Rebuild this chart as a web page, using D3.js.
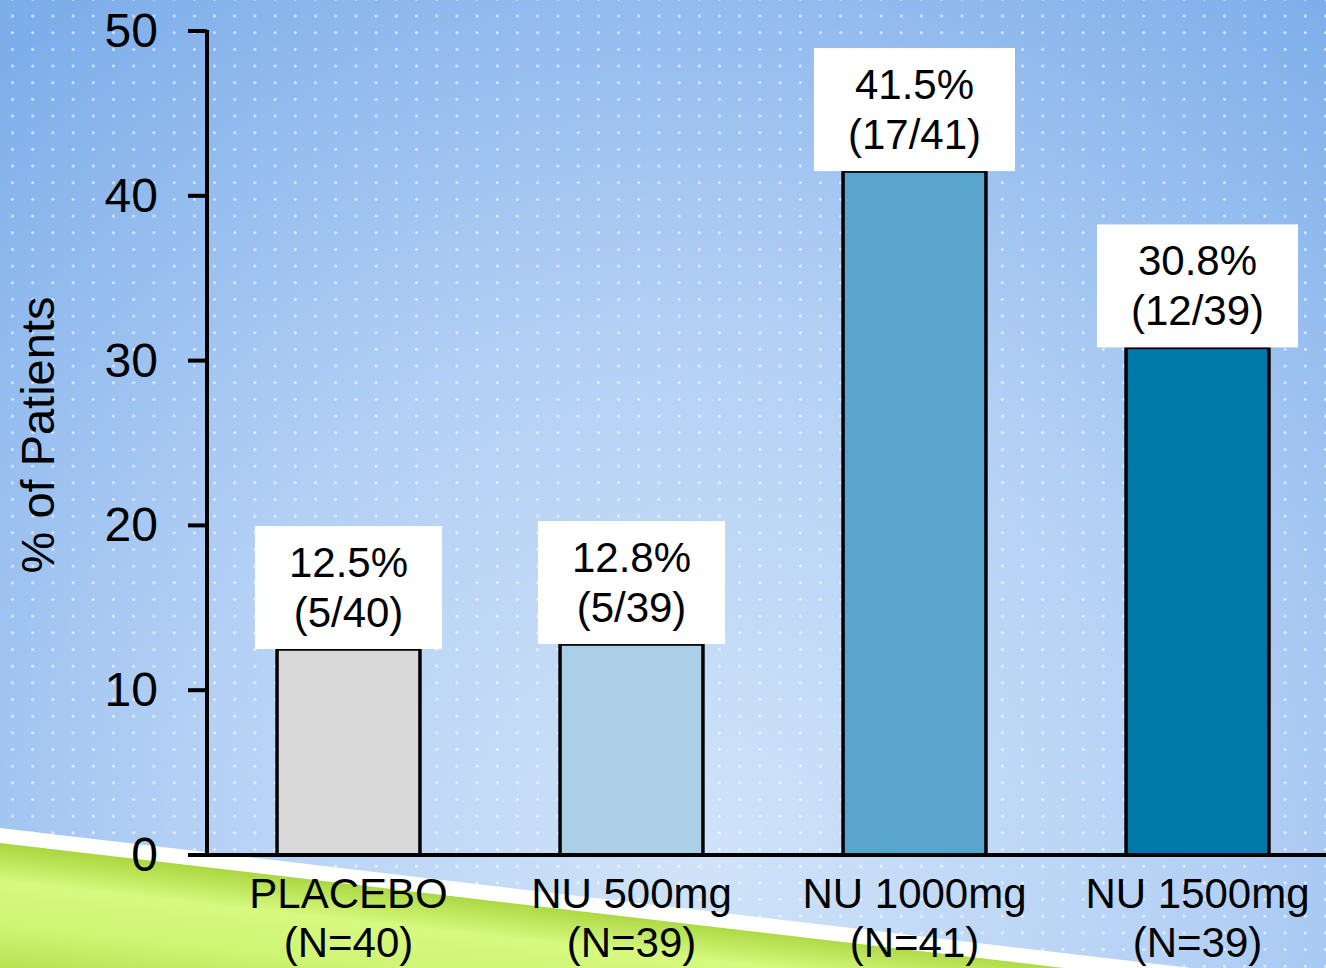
<!DOCTYPE html>
<html>
<head>
<meta charset="utf-8">
<script src="https://cdn.jsdelivr.net/npm/d3@7"></script>
<style>
  html, body { margin: 0; padding: 0; background: #fff; }
  svg { display: block; font-family: "Liberation Sans", Arial, sans-serif; }
</style>
</head>
<body>
<svg id="chart" width="1326" height="968"></svg>
<script>
// Responder rate by treatment arm
const groups = ["PLACEBO", "NU 500mg", "NU 1000mg", "NU 1500mg"];
const groupSizes = ["(N=40)", "(N=39)", "(N=41)", "(N=39)"];
const percentages = [12.5, 12.8, 41.5, 30.8];
const counts = ["(5/40)", "(5/39)", "(17/41)", "(12/39)"];
const barColors = ["#d9d9d9", "#aacfe6", "#5aa5cd", "#0079a8"];
const yTicks = [0, 10, 20, 30, 40, 50];
const yTitle = "% of Patients";

const W = 1326, H = 968;
const svg = d3.select("#chart");
const defs = svg.append("defs");

// Slide backdrop: soft blue glow with a white dot grid
const bg = defs.append("radialGradient").attr("id", "bgGrad")
  .attr("gradientUnits", "userSpaceOnUse")
  .attr("cx", 700).attr("cy", 850).attr("r", 1050);
bg.append("stop").attr("offset", 0).attr("stop-color", "#d0e3f9");
bg.append("stop").attr("offset", 0.5).attr("stop-color", "#b3d0f5");
bg.append("stop").attr("offset", 1).attr("stop-color", "#7eaeea");

const dots = defs.append("pattern").attr("id", "dots")
  .attr("patternUnits", "userSpaceOnUse")
  .attr("x", 2.5).attr("y", 7.7)
  .attr("width", 20.2).attr("height", 16.67);
dots.append("circle").attr("cx", 10).attr("cy", 8.3).attr("r", 1.3)
  .attr("fill", "#ffffff").attr("fill-opacity", 0.85);

const green = defs.append("linearGradient").attr("id", "greenGrad")
  .attr("gradientUnits", "userSpaceOnUse")
  .attr("x1", 0).attr("y1", 843).attr("x2", -14).attr("y2", 968);
green.append("stop").attr("offset", 0).attr("stop-color", "#a9d63f");
green.append("stop").attr("offset", 0.3).attr("stop-color", "#d6f97f");
green.append("stop").attr("offset", 0.65).attr("stop-color", "#d0f474");
green.append("stop").attr("offset", 1).attr("stop-color", "#b9e152");

svg.append("rect").attr("width", W).attr("height", H).attr("fill", "url(#bgGrad)");
svg.append("rect").attr("width", W).attr("height", H).attr("fill", "url(#dots)");

// Diagonal ribbon at the lower left
svg.append("polygon").attr("points", "0,828 1191,968 0,968").attr("fill", "#ffffff");
svg.append("polygon").attr("points", "0,843 1064,968 0,968").attr("fill", "url(#greenGrad)");

// Scales
const x = d3.scaleBand().domain(groups).range([207, 1339]).paddingInner(0.495).paddingOuter(0.2475);
const y = d3.scaleLinear().domain([0, 50]).range([855, 31]);

const g = svg.append("g");

// Bars
g.selectAll("rect.bar").data(groups).join("rect")
  .attr("class", "bar")
  .attr("x", d => x(d))
  .attr("width", x.bandwidth())
  .attr("y", (d, i) => y(percentages[i]))
  .attr("height", (d, i) => y(0) - y(percentages[i]))
  .attr("fill", (d, i) => barColors[i])
  .attr("stroke", "#000").attr("stroke-width", 3.5);

// Value labels in white boxes sitting on the bars
const lbl = g.selectAll("g.lbl").data(groups).join("g")
  .attr("class", "lbl")
  .attr("transform", (d, i) => `translate(${x(d) + x.bandwidth() / 2},${y(percentages[i])})`);
const boxes = lbl.append("rect").attr("fill", "#ffffff");
lbl.append("text").attr("text-anchor", "middle").attr("y", -72)
  .attr("font-size", 42).attr("fill", "#000")
  .text((d, i) => percentages[i].toFixed(1) + "%");
lbl.append("text").attr("text-anchor", "middle").attr("y", -22)
  .attr("font-size", 42).attr("fill", "#000")
  .text((d, i) => counts[i]);
boxes.each(function () {
  const parent = d3.select(this.parentNode);
  let wMax = 0;
  parent.selectAll("text").each(function () { wMax = Math.max(wMax, this.getComputedTextLength()); });
  const bw = wMax + 68;
  d3.select(this).attr("x", -bw / 2).attr("width", bw).attr("y", -123).attr("height", 123);
});

// Y axis
const yAxis = g.append("g");
yAxis.append("line").attr("x1", 207).attr("x2", 207).attr("y1", y(50) - 1).attr("y2", y(0))
  .attr("stroke", "#000").attr("stroke-width", 4);
yAxis.selectAll("line.tick").data(yTicks).join("line").attr("class", "tick")
  .attr("x1", 188).attr("x2", 207).attr("y1", d => y(d)).attr("y2", d => y(d))
  .attr("stroke", "#000").attr("stroke-width", 4);
yAxis.selectAll("text").data(yTicks).join("text")
  .attr("x", 158).attr("y", d => y(d) + 16)
  .attr("text-anchor", "end").attr("font-size", 48).attr("fill", "#000")
  .text(d => d);

// X axis baseline
g.append("line").attr("x1", 205).attr("x2", W).attr("y1", y(0)).attr("y2", y(0))
  .attr("stroke", "#000").attr("stroke-width", 4);

// Category labels
const xl = g.selectAll("g.xl").data(groups).join("g").attr("class", "xl")
  .attr("transform", d => `translate(${x(d) + x.bandwidth() / 2},0)`);
xl.append("text").attr("y", 908).attr("text-anchor", "middle").attr("font-size", 42).attr("fill", "#000").text(d => d);
xl.append("text").attr("y", 957).attr("text-anchor", "middle").attr("font-size", 42).attr("fill", "#000").text((d, i) => groupSizes[i]);

// Y axis title
g.append("text").attr("transform", "translate(54,435) rotate(-90)")
  .attr("text-anchor", "middle").attr("font-size", 47).attr("fill", "#000")
  .text(yTitle);
</script>
</body>
</html>
